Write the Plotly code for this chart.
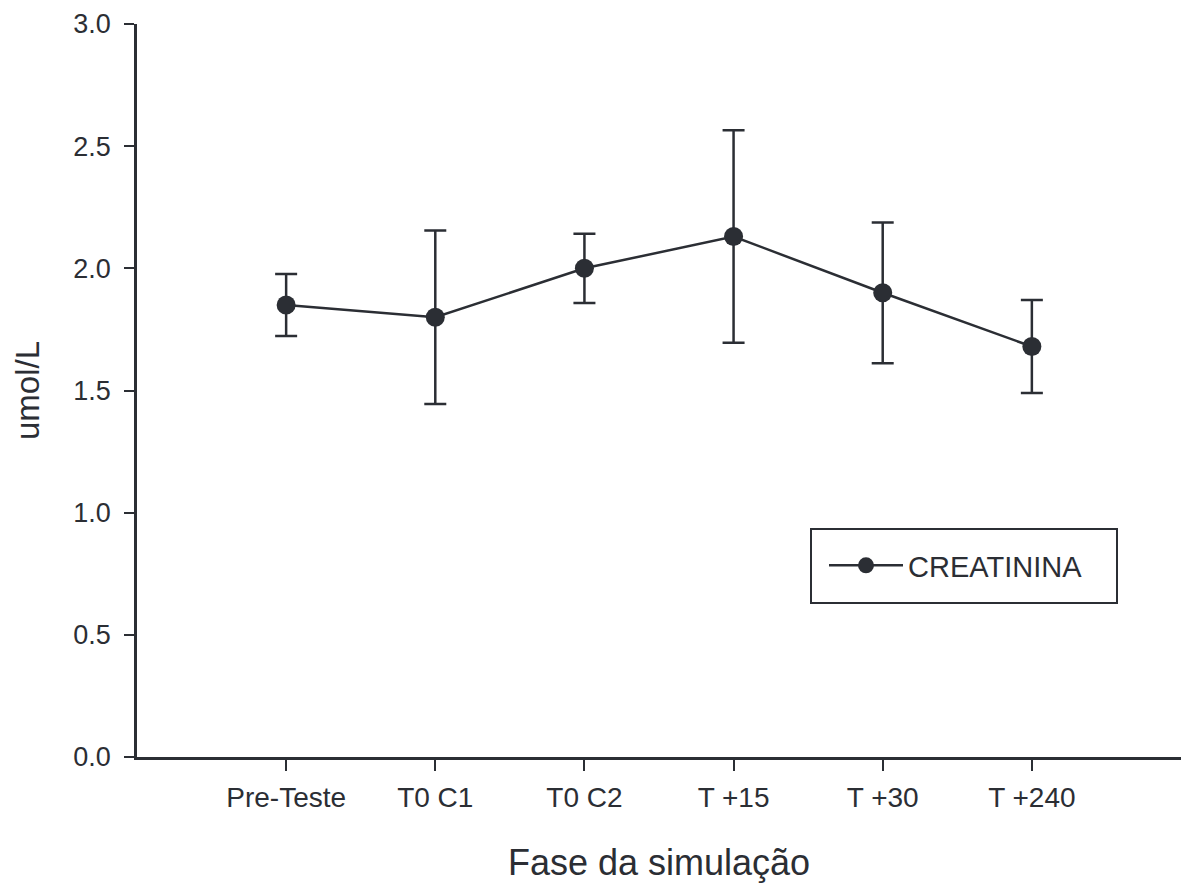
import plotly.graph_objects as go

# Creatinine means and error half-widths per simulation phase
phases = ["Pre-Teste", "T0 C1", "T0 C2", "T +15", "T +30", "T +240"]
creatinina = [1.85, 1.80, 2.00, 2.13, 1.90, 1.68]
creatinina_err = [0.127, 0.355, 0.142, 0.435, 0.288, 0.19]

y_ticks = [0.0, 0.5, 1.0, 1.5, 2.0, 2.5, 3.0]
y_tick_text = [f"{v:.1f}" for v in y_ticks]

ink = "#2b2e34"
font_family = "Liberation Sans, Arial, sans-serif"

fig = go.Figure()
fig.add_trace(go.Scatter(
    x=phases,
    y=creatinina,
    mode="lines+markers",
    name="CREATININA",
    line=dict(color=ink, width=2.5),
    marker=dict(color=ink, size=19),
    error_y=dict(type="data", array=creatinina_err, visible=True,
                 color=ink, thickness=2.5, width=11),
))

# framed box around the legend entry
fig.add_shape(
    type="rect", xref="paper", yref="paper",
    x0=(811 - 137) / 1044, x1=(1117 - 137) / 1044,
    y0=(757 - 603) / 733, y1=(757 - 529) / 733,
    line=dict(color=ink, width=2), fillcolor="white", layer="below",
)

fig.update_layout(
    width=1182,
    height=883,
    margin=dict(l=137, r=1, t=24, b=126),
    paper_bgcolor="white",
    plot_bgcolor="white",
    font=dict(family=font_family, color=ink, size=27),
    showlegend=True,
    legend=dict(
        x=(824 - 137) / 1044, y=(757 - 540) / 733, xanchor="left", yanchor="top",
        bgcolor="rgba(0,0,0,0)", borderwidth=0,
        font=dict(size=29, color=ink),
        itemwidth=74,
    ),
    xaxis=dict(
        type="category",
        range=[-1, 6],
        showline=True, linecolor=ink, linewidth=2.5,
        ticks="outside", ticklen=11, tickwidth=2, tickcolor=ink,
        showgrid=False, zeroline=False,
        tickfont=dict(size=28, color=ink),
        ticklabelstandoff=3,
        title=dict(text="Fase da simulação", font=dict(size=36, color=ink), standoff=38),
    ),
    yaxis=dict(
        range=[0, 3.0],
        tickvals=y_ticks, ticktext=y_tick_text,
        showline=True, linecolor=ink, linewidth=2.5,
        ticks="outside", ticklen=10, tickwidth=2, tickcolor=ink,
        showgrid=False, zeroline=False,
        tickfont=dict(size=27, color=ink),
        ticklabelstandoff=8,
        title=dict(text="umol/L", font=dict(size=33, color=ink), standoff=24),
    ),
)

fig.write_html("out.html")
